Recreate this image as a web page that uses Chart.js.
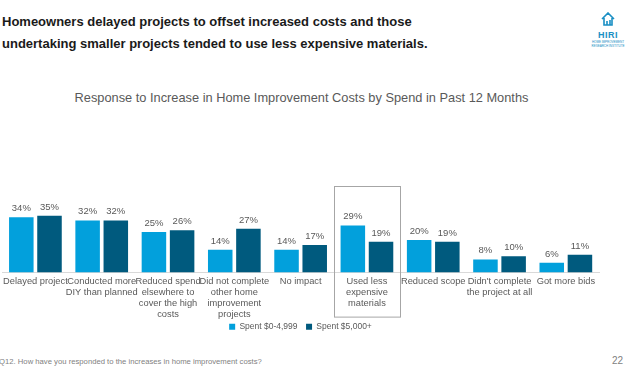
<!DOCTYPE html>
<html>
<head>
<meta charset="utf-8">
<script src="https://cdn.jsdelivr.net/npm/chart.js@4.4.0/dist/chart.umd.min.js"></script>
<style>
  body { margin: 0; width: 627px; height: 376px; background: #fff; font-family: "Liberation Sans", Arial, sans-serif; position: relative; overflow: hidden; }
  #title { position: absolute; left: 2px; top: 11px; font-size: 13px; font-weight: bold; color: #1a1a1a; line-height: 22px; }
  #subtitle { position: absolute; left: 0; width: 603px; top: 90px; text-align: center; font-size: 12.8px; color: #595959; }
  #wrap { position: absolute; left: 0; top: 180px; width: 627px; height: 161px; }
  #foot { position: absolute; left: -1px; top: 357px; font-size: 7.7px; color: #7f7f7f; }
  #page { position: absolute; right: 4px; top: 355px; font-size: 10px; color: #7f7f7f; }
  #logo { position: absolute; left: 590px; top: 12px; width: 36px; text-align: center; color: #1a8fc4; }
  #logo .h { font-weight: bold; font-size: 9px; letter-spacing: 0.5px; }
  #logo .s { font-size: 3px; line-height: 4px; color: #1a8fc4; }
</style>
</head>
<body>
<div id="title">Homeowners delayed projects to offset increased costs and those<br>undertaking smaller projects tended to use less expensive materials.</div>
<div id="logo">
  <svg width="16" height="14" viewBox="0 0 16 14"><path d="M2 7 L8 1 L14 7 M4 6 V13 H12 V6 M7 13 V9 M10 13 V8" fill="none" stroke="#1a8fc4" stroke-width="1.6"/></svg>
  <div class="h">HIRI</div>
  <div class="s">HOME IMPROVEMENT<br>RESEARCH INSTITUTE</div>
</div>
<div id="subtitle">Response to Increase in Home Improvement Costs by Spend in Past 12 Months</div>
<div id="wrap"><canvas id="c"></canvas></div>
<div id="foot">Q12. How have you responded to the increases in home improvement costs?</div>
<div id="page">22</div>
<script>
const categories = [
  'Delayed project',
  ['Conducted more', 'DIY than planned'],
  ['Reduced spend', 'elsewhere to', 'cover the high', 'costs'],
  ['Did not complete', 'other home', 'improvement', 'projects'],
  'No impact',
  ['Used less', 'expensive', 'materials'],
  'Reduced scope',
  ["Didn't complete", 'the project at all'],
  'Got more bids'
];
const seriesNames = ['Spent $0-4,999', 'Spent $5,000+'];
const lowSpend = [34, 32, 25, 14, 14, 29, 20, 8, 6];
const highSpend = [35, 32, 26, 27, 17, 19, 19, 10, 11];
const highlightIndex = 5;

const valueLabels = {
  id: 'valueLabels',
  afterDatasetsDraw(chart) {
    const ctx = chart.ctx;
    ctx.save();
    ctx.font = '9.5px "Liberation Sans", Arial, sans-serif';
    ctx.fillStyle = '#595959';
    ctx.textAlign = 'center';
    ctx.textBaseline = 'bottom';
    chart.data.datasets.forEach((ds, i) => {
      chart.getDatasetMeta(i).data.forEach((bar, j) => {
        ctx.fillText(ds.data[j] + '%', bar.x, bar.y - 4);
      });
    });
    ctx.restore();
  }
};

const highlightBox = {
  id: 'highlightBox',
  afterDraw(chart) {
    const x = chart.scales.x;
    const half = x.width / categories.length / 2;
    const cx = x.getPixelForValue(highlightIndex);
    const ctx = chart.ctx;
    ctx.save();
    ctx.strokeStyle = '#a6a6a6';
    ctx.lineWidth = 1;
    ctx.strokeRect(Math.round(cx - half) + 0.5, 6.5, Math.round(half * 2), chart.chartArea.bottom + 44 - 6);
    ctx.restore();
  }
};

new Chart(document.getElementById('c'), {
  type: 'bar',
  data: {
    labels: categories,
    datasets: [
      { label: seriesNames[0], data: lowSpend, backgroundColor: '#02a0dc' },
      { label: seriesNames[1], data: highSpend, backgroundColor: '#005a7e' }
    ]
  },
  options: {
    responsive: true,
    maintainAspectRatio: false,
    animation: false,
    layout: { padding: { left: 2, right: 28, top: 34 } },
    categoryPercentage: 0.85,
    barPercentage: 0.87,
    scales: {
      x: {
        grid: { display: false, drawTicks: false },
        border: { color: '#d9d9d9' },
        ticks: { color: '#595959', font: { size: 9.3, family: '"Liberation Sans", Arial, sans-serif', lineHeight: 1.18 }, maxRotation: 0, autoSkip: false, padding: 3 }
      },
      y: { display: false, min: 0, max: 36 }
    },
    plugins: {
      legend: {
        position: 'bottom',
        labels: {
          boxWidth: 6, boxHeight: 6, padding: 0, color: '#595959',
          font: { size: 8.5, family: '"Liberation Sans", Arial, sans-serif' },
          // padding 0 keeps the legend low; add the item gap back with a space
          generateLabels(chart) {
            const items = Chart.defaults.plugins.legend.labels.generateLabels(chart);
            items.forEach((it, i) => { if (i < items.length - 1) it.text += '\u2003'; });
            return items;
          }
        }
      },
      tooltip: { enabled: false }
    }
  },
  plugins: [valueLabels, highlightBox]
});
</script>
</body>
</html>
